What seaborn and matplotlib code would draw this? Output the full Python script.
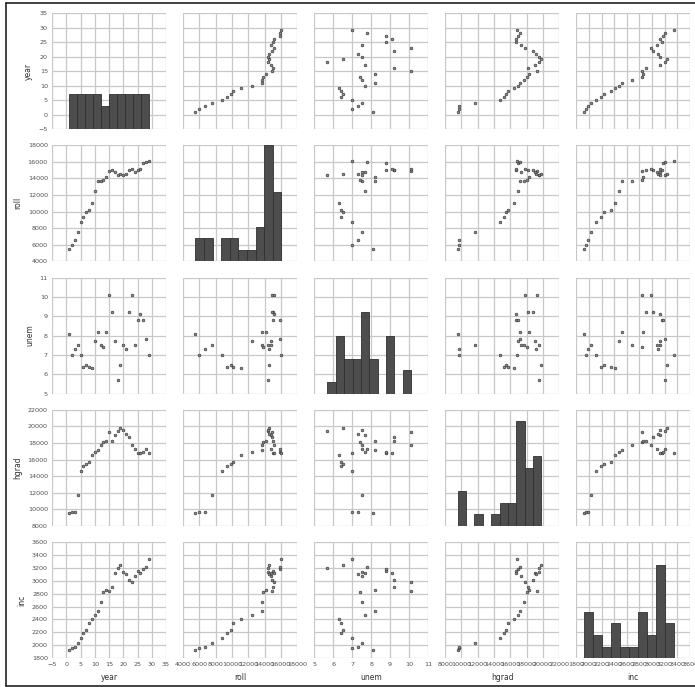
"""
Pair plot of the enrollment data: year, roll, unem, hgrad, inc.
"""
import numpy as np
import pandas as pd
import matplotlib
matplotlib.use('Agg')
import matplotlib.pyplot as plt
import seaborn as sns
from matplotlib.lines import Line2D

# data
year = list(range(1, 30))
roll = [5501, 5945, 6629, 7556, 8716, 9369, 9920, 10167, 11084, 12504,
        13746, 13656, 13850, 14145, 14888, 14991, 14836, 14478, 14539, 14395,
        14599, 14969, 15107, 14831, 15081, 15127, 15856, 15938, 16081]
unem = [8.1, 7.0, 7.3, 7.5, 7.0, 6.4, 6.5, 6.4, 6.3, 7.7,
        8.2, 7.5, 7.4, 8.2, 10.1, 9.2, 7.7, 5.7, 6.5, 7.5,
        7.3, 9.2, 10.1, 7.5, 8.8, 9.1, 8.8, 7.8, 7.0]
hgrad = [9552, 9680, 9731, 11666, 14675, 15265, 15484, 15723, 16501, 16890,
         17203, 17707, 18108, 18266, 19308, 18224, 18997, 19505, 19800, 19546,
         19117, 18774, 17813, 17304, 16756, 16749, 16925, 17231, 16816]
inc = [1923, 1961, 1979, 2030, 2112, 2192, 2235, 2351, 2411, 2475,
       2524, 2674, 2833, 2863, 2839, 2898, 3123, 3195, 3239, 3129,
       3100, 3008, 2983, 3069, 3151, 3127, 3179, 3207, 3345]

variables = ['year', 'roll', 'unem', 'hgrad', 'inc']
# axis range and tick step per variable
axis_ranges = {
    'year': (-5, 35, 5),
    'roll': (4000, 18000, 2000),
    'unem': (5, 11, 1),
    'hgrad': (8000, 22000, 2000),
    'inc': (1800, 3600, 200),
}

df = pd.DataFrame({'year': year, 'roll': roll, 'unem': unem,
                   'hgrad': hgrad, 'inc': inc})

sns.set_style('whitegrid', {'grid.color': '#c8c8c8', 'axes.edgecolor': '#c8c8c8'})
plt.rcParams['font.family'] = ['DejaVu Sans']

g = sns.pairplot(
    df, vars=variables, diag_kind='hist', height=1.4,
    plot_kws=dict(s=4, color='#8a8a8a', edgecolor='#2a2a2a', linewidth=0.4),
    diag_kws=dict(bins=10, color='#4d4d4d', edgecolor='#303030',
                  linewidth=0.6, alpha=1),
)
fig = g.figure
fig.set_size_inches(6.95, 6.87)
fig.subplots_adjust(left=0.075, right=0.993, bottom=0.042, top=0.981,
                    wspace=0.15, hspace=0.14)

for i, var in enumerate(variables):
    lo, hi, step = axis_ranges[var]
    ticks = np.arange(lo, hi + step / 2, step)
    g.axes[-1, i].set_xlim(lo, hi)
    g.axes[-1, i].set_xticks(ticks)
    g.axes[i, 0].set_ylim(lo, hi)
    g.axes[i, 0].set_yticks(ticks)

for ax in g.diag_axes:
    ax.set_ylim(0, 10)

for ax in g.axes.flat:
    ax.tick_params(labelsize=4.6, length=0, pad=3, labelcolor='#505050')
    ax.grid(True, color='#c8c8c8', linewidth=0.9)
    for side in ['left', 'bottom']:
        ax.spines[side].set_visible(False)
    ax.xaxis.label.set_size(5.5)
    ax.yaxis.label.set_size(5.5)
    ax.xaxis.label.set_color('#333333')
    ax.yaxis.label.set_color('#333333')

# frame around the figure, as in the scanned original
for xs, ys in [([0.008, 0.008], [0.002, 0.996]),
               ([0.008, 1.0], [0.996, 0.996]),
               ([0.008, 1.0], [0.002, 0.002])]:
    fig.add_artist(Line2D(xs, ys, transform=fig.transFigure,
                          color='#222222', linewidth=1.2))

fig.savefig('out.png', dpi=100)
